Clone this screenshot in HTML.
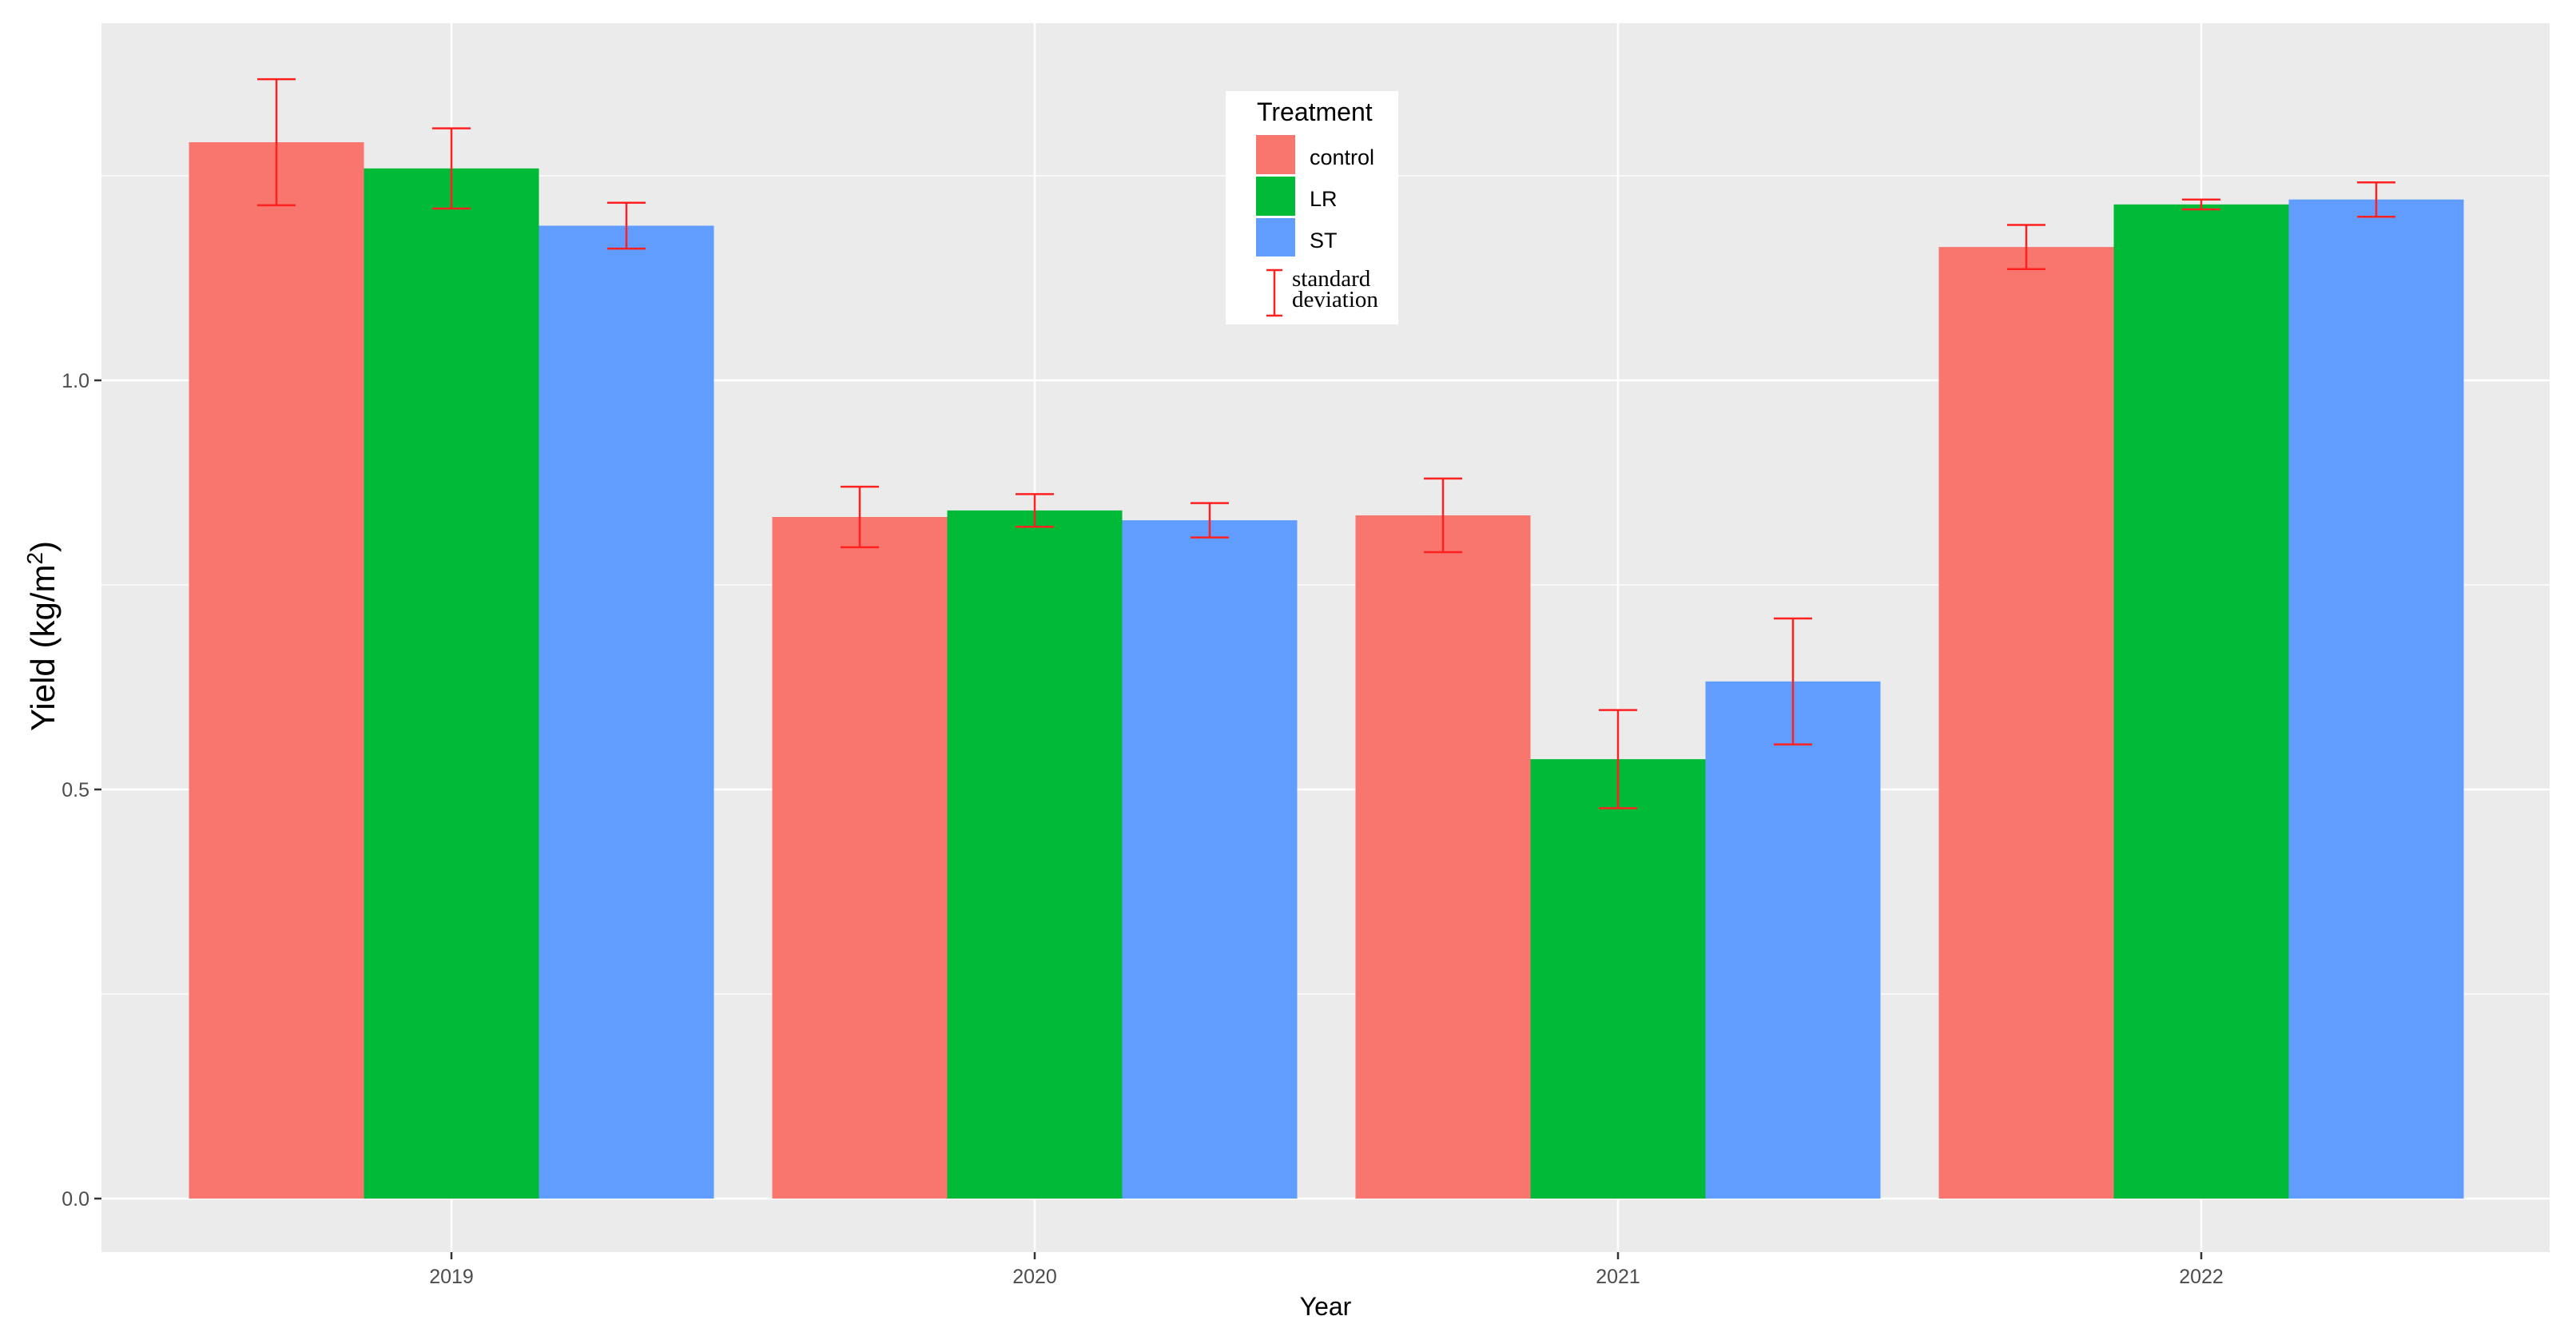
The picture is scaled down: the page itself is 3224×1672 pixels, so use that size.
<!DOCTYPE html>
<html><head><meta charset="utf-8"><style>
body{margin:0;background:#fff;}
svg{display:block;font-family:"Liberation Sans",sans-serif;}
</style></head><body>
<svg id="chart" width="3224" height="1672" viewBox="0 0 3224 1672">
<rect x="127" y="29" width="3064" height="1538" fill="#EBEBEB"/>
<g id="grid"></g><g id="bars"></g><g id="errs"></g><g id="axes"></g>
<text transform="translate(68,796) rotate(-90)" text-anchor="middle" font-size="42" fill="#000">Yield (kg/m<tspan baseline-shift="super" font-size="28">2</tspan>)</text>
<text x="1659" y="1646" text-anchor="middle" font-size="32" fill="#000">Year</text>
<g>
<rect x="1534" y="114" width="216" height="292" fill="#fff"/>
<text x="1573" y="151" font-size="32" fill="#000">Treatment</text>
<rect x="1572" y="169" width="49" height="49" fill="#F8766D"/>
<rect x="1572" y="221" width="49" height="49" fill="#00BA38"/>
<rect x="1572" y="273" width="49" height="48" fill="#619CFF"/>
<text x="1639" y="206" font-size="27" fill="#000">control</text>
<text x="1639" y="258" font-size="27" fill="#000">LR</text>
<text x="1639" y="310" font-size="27" fill="#000">ST</text>
<g stroke="#FF2020" stroke-width="2.5"><line x1="1595" y1="338" x2="1595" y2="395"/><line x1="1585" y1="338" x2="1605" y2="338"/><line x1="1585" y1="395" x2="1605" y2="395"/></g>
<text x="1617" y="358" font-size="29" font-family="Liberation Serif,serif" fill="#000">standard</text>
<text x="1617" y="384" font-size="29" font-family="Liberation Serif,serif" fill="#000">deviation</text>
</g>
</svg>
<script>
const years=["2019","2020","2021","2022"];
const treatments=["control","LR","ST"];
const colors=["#F8766D","#00BA38","#619CFF"];
const controlVals=[1.291,0.833,0.835,1.163];
const lrVals=[1.259,0.841,0.537,1.215];
const stVals=[1.189,0.829,0.632,1.221];
const controlSd=[0.077,0.037,0.045,0.027];
const lrSd=[0.049,0.020,0.060,0.006];
const stSd=[0.028,0.021,0.077,0.021];
const yTicks=[0,0.5,1.0];
const yTickLabels=["0.0","0.5","1.0"];
const yMinor=[0.25,0.75,1.25];
const ns="http://www.w3.org/2000/svg";
const y0=1500,unit=1024,x0=565,step=730,barW=219;
function ys(v){return y0-v*unit;}
function xs(i){return x0+i*step;}
function mk(p,tag,a){const e=document.createElementNS(ns,tag);for(const k in a)e.setAttribute(k,a[k]);p.appendChild(e);return e;}
const grid=document.getElementById('grid'),bars=document.getElementById('bars'),errs=document.getElementById('errs'),axes=document.getElementById('axes');
yMinor.forEach(v=>{const l=mk(grid,'line',{x1:127,x2:3191,y1:ys(v),y2:ys(v),stroke:'#fff','stroke-width':1.3});

});
yTicks.forEach((v,i)=>{const l=mk(grid,'line',{x1:127,x2:3191,y1:ys(v),y2:ys(v),stroke:'#fff','stroke-width':2.6});


const t=mk(axes,'line',{x1:118,x2:127,y1:ys(v),y2:ys(v),stroke:'#333','stroke-width':2.5});


const tx=mk(axes,'text',{x:112,y:ys(v)+9,'text-anchor':'end','font-size':25,fill:'#4D4D4D'});tx.textContent=yTickLabels[i];

});
years.forEach((yr,i)=>{const l=mk(grid,'line',{x1:xs(i),x2:xs(i),y1:29,y2:1567,stroke:'#fff','stroke-width':2.6});


const t=mk(axes,'line',{x1:xs(i),x2:xs(i),y1:1567,y2:1576,stroke:'#333','stroke-width':2.5});


const tx=mk(axes,'text',{x:xs(i),y:1606,'text-anchor':'middle','font-size':25,fill:'#4D4D4D'});tx.textContent=yr;

});
const series=[controlVals,lrVals,stVals],sds=[controlSd,lrSd,stSd];
series.forEach((vals,s)=>{vals.forEach((v,i)=>{const cx=xs(i)+(s-1)*barW;
const r=mk(bars,'rect',{x:cx-barW/2,y:ys(v),width:barW,height:y0-ys(v),fill:colors[s]});


const sd=sds[s][i],g=mk(errs,'g',{stroke:'#FF2020','stroke-width':2.5});


mk(g,'line',{x1:cx,x2:cx,y1:ys(v+sd),y2:ys(v-sd)});
mk(g,'line',{x1:cx-24,x2:cx+24,y1:ys(v+sd),y2:ys(v+sd)});
mk(g,'line',{x1:cx-24,x2:cx+24,y1:ys(v-sd),y2:ys(v-sd)});});});
</script>
</body></html>
